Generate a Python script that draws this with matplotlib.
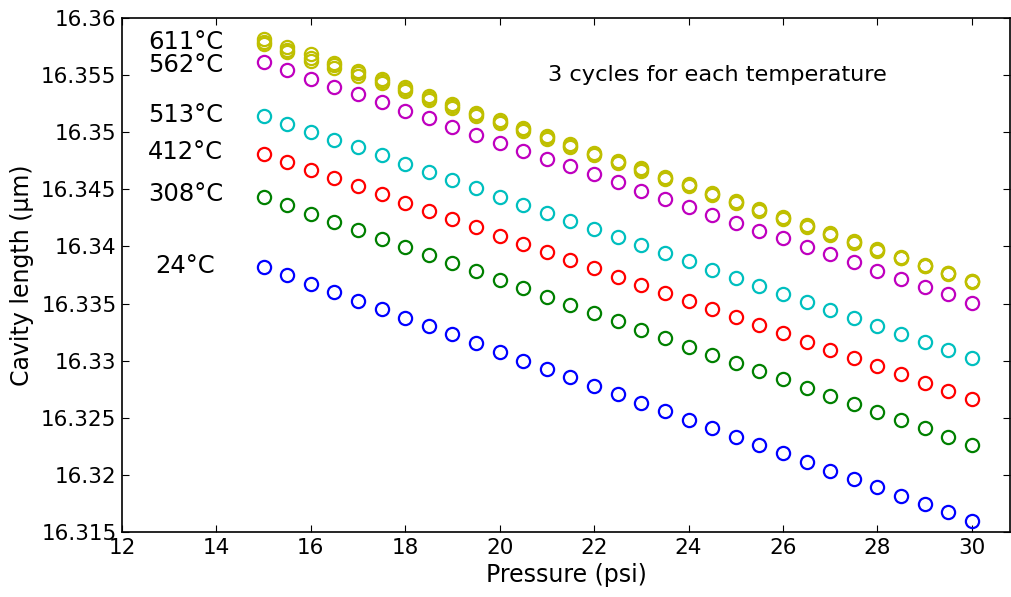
import matplotlib
matplotlib.use("Agg")
import matplotlib.pyplot as plt

# -------------------------------------------------
# Data
# -------------------------------------------------
pressure = [15.0, 15.5, 16.0, 16.5, 17.0, 17.5, 18.0, 18.5, 19.0, 19.5,
            20.0, 20.5, 21.0, 21.5, 22.0, 22.5, 23.0, 23.5, 24.0, 24.5,
            25.0, 25.5, 26.0, 26.5, 27.0, 27.5, 28.0, 28.5, 29.0, 29.5, 30.0]

t24 = [16.33823, 16.33747, 16.33671, 16.33599, 16.33525, 16.33452, 16.33374, 16.33304,
       16.33231, 16.33155, 16.33076, 16.33000, 16.32930, 16.32854, 16.32781, 16.32706,
       16.32632, 16.32559, 16.32483, 16.32410, 16.32334, 16.32262, 16.32189, 16.32110,
       16.32037, 16.31961, 16.31891, 16.31818, 16.31745, 16.31672, 16.31599]

t308 = [16.34430, 16.34360, 16.34287, 16.34214, 16.34141, 16.34068, 16.33998, 16.33925,
        16.33855, 16.33782, 16.33709, 16.33636, 16.33560, 16.33485, 16.33415, 16.33345,
        16.33268, 16.33198, 16.33122, 16.33052, 16.32982, 16.32907, 16.32837, 16.32763,
        16.32691, 16.32618, 16.32548, 16.32478, 16.32408, 16.32334, 16.32264]

t412 = [16.34809, 16.34742, 16.34667, 16.34597, 16.34529, 16.34455, 16.34380, 16.34310,
        16.34238, 16.34168, 16.34094, 16.34024, 16.33954, 16.33881, 16.33809, 16.33735,
        16.33665, 16.33594, 16.33522, 16.33452, 16.33380, 16.33310, 16.33240, 16.33166,
        16.33093, 16.33023, 16.32951, 16.32881, 16.32807, 16.32734, 16.32664]

t513 = [16.35145, 16.35075, 16.35005, 16.34935, 16.34868, 16.34798, 16.34722, 16.34654,
        16.34582, 16.34514, 16.34437, 16.34363, 16.34290, 16.34220, 16.34150, 16.34080,
        16.34013, 16.33940, 16.33870, 16.33796, 16.33726, 16.33654, 16.33584, 16.33511,
        16.33444, 16.33374, 16.33304, 16.33233, 16.33161, 16.33093, 16.33021]

t562 = [16.35612, 16.35545, 16.35469, 16.35399, 16.35335, 16.35262, 16.35188, 16.35125,
        16.35048, 16.34976, 16.34908, 16.34838, 16.34768, 16.34704, 16.34634, 16.34560,
        16.34488, 16.34418, 16.34348, 16.34275, 16.34208, 16.34138, 16.34071, 16.33998,
        16.33931, 16.33861, 16.33788, 16.33715, 16.33648, 16.33584, 16.33508]

# 611 C: the three cycles separate slightly
t611_c1 = [16.35818, 16.35744, 16.35682, 16.35608, 16.35536, 16.35466, 16.35396, 16.35318,
           16.35245, 16.35171, 16.35108, 16.35039, 16.34968, 16.34894, 16.34819, 16.34751,
           16.34685, 16.34611, 16.34550, 16.34469, 16.34402, 16.34327, 16.34255, 16.34185,
           16.34114, 16.34045, 16.33975, 16.33907, 16.33836, 16.33770, 16.33701]
t611_c2 = [16.35793, 16.35720, 16.35652, 16.35586, 16.35516, 16.35448, 16.35376, 16.35302,
           16.35230, 16.35157, 16.35092, 16.35026, 16.34956, 16.34882, 16.34809, 16.34739,
           16.34675, 16.34602, 16.34538, 16.34459, 16.34392, 16.34319, 16.34249, 16.34179,
           16.34106, 16.34039, 16.33969, 16.33901, 16.33831, 16.33765, 16.33695]
t611_c3 = [16.35773, 16.35698, 16.35622, 16.35562, 16.35494, 16.35430, 16.35358, 16.35285,
           16.35215, 16.35143, 16.35078, 16.35013, 16.34943, 16.34870, 16.34797, 16.34729,
           16.34664, 16.34593, 16.34528, 16.34450, 16.34384, 16.34312, 16.34243, 16.34172,
           16.34100, 16.34034, 16.33963, 16.33896, 16.33826, 16.33761, 16.33690]

temp_labels = ["24\u00b0C", "308\u00b0C", "412\u00b0C", "513\u00b0C", "562\u00b0C", "611\u00b0C"]
x_ticks = [12, 14, 16, 18, 20, 22, 24, 26, 28, 30]
y_ticks = [16.315, 16.32, 16.325, 16.33, 16.335, 16.34, 16.345, 16.35, 16.355, 16.36]

# -------------------------------------------------
# Plot
# -------------------------------------------------
plt.rcParams["font.family"] = "DejaVu Sans"

fig = plt.figure(figsize=(10.11, 5.97), dpi=100)
ax = fig.add_axes([0.1207, 0.1089, 0.8783, 0.861])

series = [
    (t24, (0, 0, 1)),
    (t308, (0, 0.5, 0)),
    (t412, (1, 0, 0)),
    (t513, (0, 0.75, 0.75)),
    (t562, (0.75, 0, 0.75)),
    (t611_c1, (0.75, 0.75, 0)),
    (t611_c2, (0.75, 0.75, 0)),
    (t611_c3, (0.75, 0.75, 0)),
]
for values, color in series:
    ax.plot(pressure, values, linestyle="none", marker="o", markersize=9.5,
            markerfacecolor="none", markeredgecolor=color, markeredgewidth=1.6)

ax.set_xlim(12, 30.81)
ax.set_ylim(16.315, 16.36)
ax.set_xticks(x_ticks)
ax.set_yticks(y_ticks)
ax.set_yticklabels([f"{v:g}" for v in y_ticks])
ax.tick_params(direction="in", top=True, right=True, labelsize=15.5, length=5, pad=4)
for sp in ax.spines.values():
    sp.set_linewidth(1.2)

ax.set_xlabel("Pressure (psi)", fontsize=17, labelpad=4)
ax.set_ylabel("Cavity length (\u03bcm)", fontsize=17, labelpad=5)

# temperature labels
label_pos = [(12.70, 16.33829), (12.55, 16.34459), (12.55, 16.34827),
             (12.55, 16.35151), (12.55, 16.35589), (12.55, 16.3579)]
for text, (lx, ly) in zip(temp_labels, label_pos):
    ax.text(lx, ly, text, fontsize=17.5, va="center", ha="left")

ax.text(21.02, 16.35501, "3 cycles for each temperature", fontsize=16.2,
        va="center", ha="left")

fig.savefig("out.png", dpi=100)
